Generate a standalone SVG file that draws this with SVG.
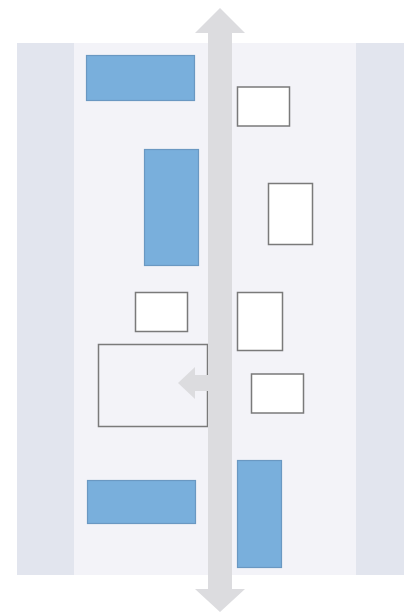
<svg xmlns="http://www.w3.org/2000/svg" width="404" height="614" viewBox="0 0 404 614">
<style>
.band{fill:#e2e5ee}
.lane{fill:#f3f3f8}
.blue{fill:#79afdc;stroke:#6a98c2;stroke-width:1.2}
.box{fill:#ffffff;stroke:#7a7a7a;stroke-width:1.5}
.frame{fill:#f3f3f8;stroke:#7a7a7a;stroke-width:1.5}
.arrow{fill:#dcdcdf}
</style>
<rect width="404" height="614" fill="#ffffff"/>
<rect class="lane" x="17" y="43" width="387" height="532"/>
<rect class="band" x="17" y="43" width="57" height="532"/>
<rect class="band" x="356" y="43" width="48" height="532"/>
<g id="n1"><rect class="blue" x="86.5" y="55.5" width="108" height="45"/></g>
<g id="n2"><rect class="blue" x="144.5" y="149.5" width="54" height="116"/></g>
<g id="n3"><rect class="blue" x="87.5" y="480.5" width="108" height="43"/></g>
<g id="n4"><rect class="blue" x="237.5" y="460.5" width="44" height="107"/></g>
<g id="n5"><rect class="box" x="237.5" y="87" width="52" height="39"/></g>
<g id="n6"><rect class="box" x="268.5" y="183.5" width="44" height="61"/></g>
<g id="n7"><rect class="box" x="135.5" y="292.5" width="52" height="39"/></g>
<g id="n8"><rect class="box" x="237.5" y="292.5" width="45" height="58"/></g>
<g id="n9"><rect class="box" x="251.5" y="374" width="52" height="39"/></g>
<g id="n10"><rect class="frame" x="98.5" y="344.5" width="109" height="82"/></g>
<g id="connectors">
<polygon class="arrow" points="220,8 245,33 232,33 232,589 245,589 220,612 195,589 208,589 208,33 195,33"/>
<polygon class="arrow" points="178,383 195,367 195,375 209,375 209,391 195,391 195,399"/>
</g>
</svg>
